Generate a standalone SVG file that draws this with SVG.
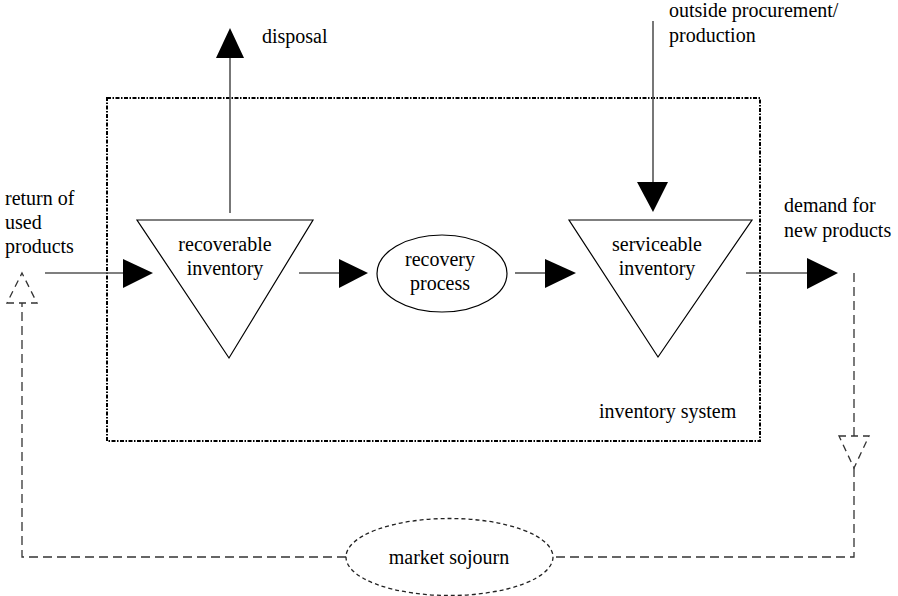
<svg xmlns="http://www.w3.org/2000/svg" width="898" height="596" viewBox="0 0 898 596" font-family="'Liberation Serif', 'Times New Roman', serif">
<defs>
<style>
text{font-family:'Liberation Serif','Times New Roman',serif;font-size:20px;fill:#000}
.mid{text-anchor:middle}
.node{fill:#fff;stroke:#000;stroke-width:1.2}
.flow{stroke:#555;stroke-width:1.6;fill:none}
.head{fill:#000;stroke:none}
.dash{stroke:#333;stroke-width:1.3;fill:none;stroke-dasharray:9,5}
.dhead{fill:#fff;stroke:#333;stroke-width:1.3;stroke-dasharray:7,5}
.box{fill:none;stroke:#000;stroke-width:2;stroke-dasharray:4,1.5,1.5,1.5}
.mkt{fill:#fff;stroke:#222;stroke-width:1.3;stroke-dasharray:4,3}
</style>
</defs>
<rect fill="#fff" width="898" height="596"/>
<g id="system">
<rect class="box" x="107" y="98" width="653" height="343"/>
<text x="599" y="418">inventory system</text>
</g>
<g id="connectors">
<line class="flow" x1="230" y1="213" x2="230" y2="56"/>
<polygon class="head" points="216,58 244,58 230,28"/>
<line class="flow" x1="653" y1="21" x2="653" y2="184"/>
<polygon class="head" points="637,182 668,182 653,212"/>
<line class="flow" x1="45" y1="273" x2="125" y2="273"/>
<polygon class="head" points="123,259 123,288 153,273"/>
<line class="flow" x1="299" y1="273" x2="341" y2="273"/>
<polygon class="head" points="339,259 339,288 368,273"/>
<line class="flow" x1="515" y1="273" x2="547" y2="273"/>
<polygon class="head" points="545,259 545,288 576,273"/>
<line class="flow" x1="746" y1="273" x2="809" y2="273"/>
<polygon class="head" points="807,258 807,289 838,273"/>
<polyline class="dash" points="854,273 854,437"/>
<polygon class="dhead" points="839,436 869,436 854,468"/>
<polyline class="dash" points="854,468 854,557 553,557"/>
<polyline class="dash" points="346,557 22,557 22,303"/>
<polygon class="dhead" points="7,303 37,303 22,273"/>
</g>
<g id="recoverable">
<polygon class="node" points="137,220 313,220 229,358"/>
<text class="mid" x="225" y="251">recoverable</text>
<text class="mid" x="225" y="275">inventory</text>
</g>
<g id="recovery">
<ellipse class="node" cx="442" cy="273.5" rx="65" ry="38.5"/>
<text class="mid" x="440" y="266">recovery</text>
<text class="mid" x="440" y="290">process</text>
</g>
<g id="serviceable">
<polygon class="node" points="569,220 752,220 658,357"/>
<text class="mid" x="657" y="251">serviceable</text>
<text class="mid" x="657" y="275">inventory</text>
</g>
<g id="market">
<ellipse class="mkt" cx="449.5" cy="557" rx="103.5" ry="38.5"/>
<text class="mid" x="449" y="564">market sojourn</text>
</g>
<g id="labels">
<text x="262" y="43">disposal</text>
<text x="669" y="17">outside procurement/</text>
<text x="669" y="42">production</text>
<text x="5" y="205">return of</text>
<text x="5" y="229">used</text>
<text x="5" y="253">products</text>
<text x="784" y="212">demand for</text>
<text x="784" y="237">new products</text>
</g>
</svg>
